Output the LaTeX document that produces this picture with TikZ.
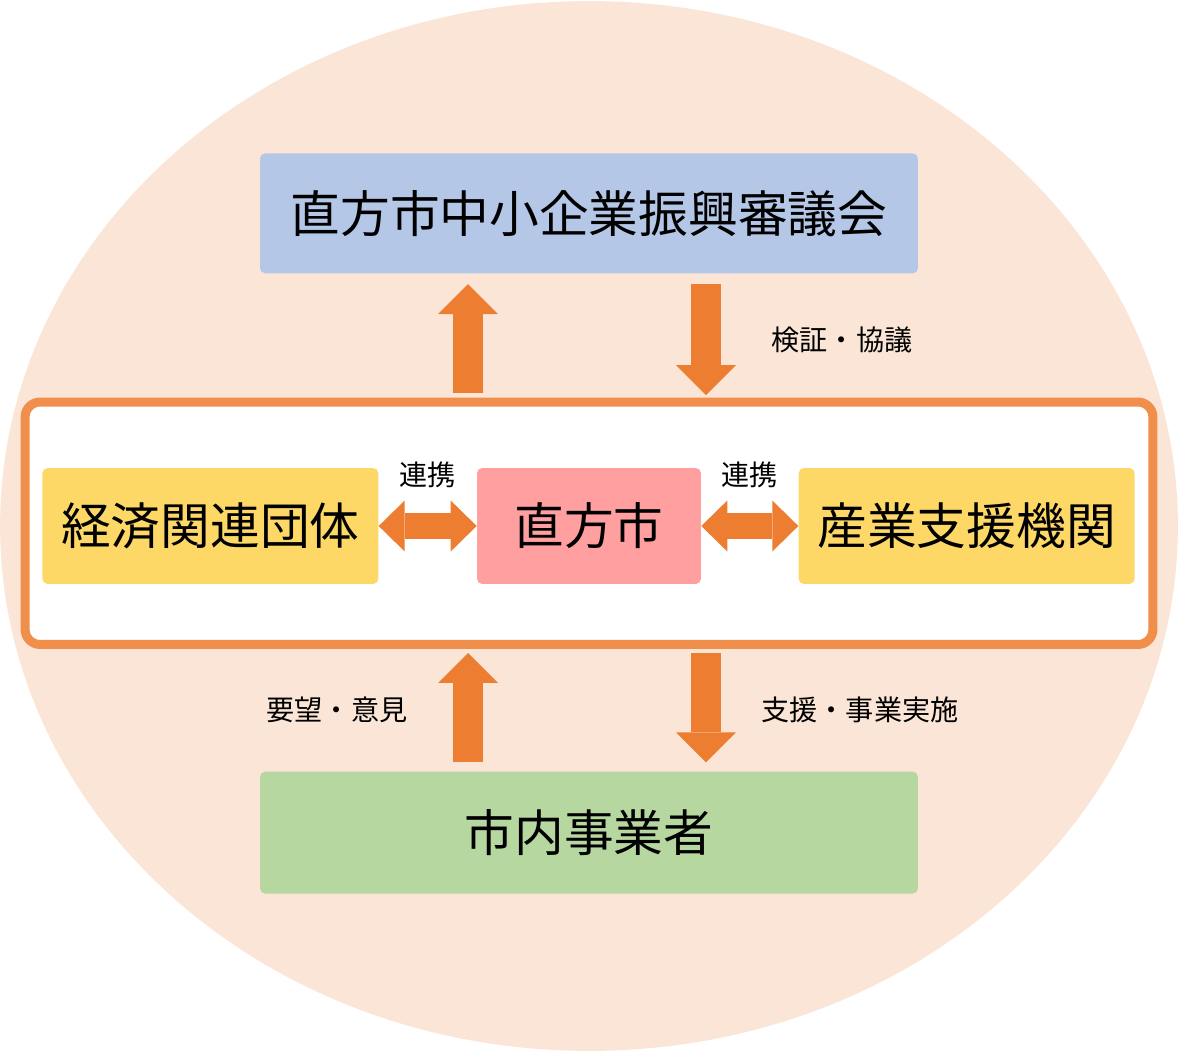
\documentclass[tikz,border=0pt]{standalone}
\usepackage{fontspec}
\setmainfont{Noto Sans CJK JP}
\usetikzlibrary{shapes, arrows.meta, positioning}
\definecolor{peach}{HTML}{FBE5D6}
\definecolor{councilblue}{HTML}{B4C7E7}
\definecolor{memberyellow}{HTML}{FDD866}
\definecolor{citypink}{HTML}{FF9FA0}
\definecolor{firmgreen}{HTML}{B6D7A0}
\definecolor{frameorange}{HTML}{F08E4C}
\definecolor{arroworange}{HTML}{ED7D31}
\newcommand{\boxfont}{\fontsize{28.3}{34}\selectfont}
\newcommand{\notefont}{\fontsize{16}{19}\selectfont}
\tikzstyle{box} = [rectangle, rounded corners=3pt, inner sep=0pt, font=\boxfont]
\tikzstyle{council} = [box, fill=councilblue, minimum width=13.16cm, minimum height=2.4cm]
\tikzstyle{member} = [box, fill=memberyellow, minimum width=6.72cm, minimum height=2.32cm]
\tikzstyle{city} = [box, fill=citypink, minimum width=4.48cm, minimum height=2.32cm]
\tikzstyle{firms} = [box, fill=firmgreen, minimum width=13.16cm, minimum height=2.44cm]
\tikzstyle{frame} = [rectangle, draw=frameorange, line width=0.18cm, rounded corners=0.3cm, fill=white, minimum width=22.56cm, minimum height=4.85cm]
\tikzstyle{oneway} = [draw=arroworange, line width=0.6cm, -{Triangle[length=0.6cm, width=1.2cm, line width=0pt]}]
\tikzstyle{twoway} = [draw=arroworange, line width=0.52cm, {Triangle[length=0.52cm, width=1.02cm, line width=0pt]}-{Triangle[length=0.52cm, width=1.02cm, line width=0pt]}]
\tikzstyle{note} = [font=\notefont, midway]

\begin{document}
\begin{tikzpicture}[x=0.02cm, y=-0.02cm]
\useasboundingbox (0,0) rectangle (1178,1052);
\fill[white] (0,0) rectangle (1178,1052);
\fill[peach] (589,526) ellipse [x radius=11.78cm, y radius=10.5cm];
\node[frame] (frame) at (589,523.25) {};
\node[city] (city) at (589,526) {直方市};
\node[member, left=1.96cm of city] (group) {経済関連団体};
\node[member, right=1.94cm of city] (support) {産業支援機関};
\node[council, above=3.88cm of city] (council) {直方市中小企業振興審議会};
\node[firms, below=3.74cm of city] (firms) {市内事業者};

\draw[oneway, shorten <=0.09cm, shorten >=0.21cm] ([xshift=-2.42cm]frame.north) -- ([xshift=-2.42cm]council.south);
\draw[oneway, shorten <=0.21cm, shorten >=0.05cm] ([xshift=2.34cm]council.south) -- node[note, xshift=2.72cm, yshift=-0.08cm] {検証・協議} ([xshift=2.34cm]frame.north);
\draw[twoway] (group) -- node[note, yshift=1.02cm] {連携} (city);
\draw[twoway] (city) -- node[note, yshift=1.02cm] {連携} (support);
\draw[oneway, shorten <=0.18cm, shorten >=0.08cm] ([xshift=-2.42cm]firms.north) -- node[note, xshift=-2.62cm] {要望・意見} ([xshift=-2.42cm]frame.south);
\draw[oneway, shorten <=0.08cm, shorten >=0.18cm] ([xshift=2.34cm]frame.south) -- node[note, xshift=3.08cm] {支援・事業実施} ([xshift=2.34cm]firms.north);
\end{tikzpicture}
\end{document}
